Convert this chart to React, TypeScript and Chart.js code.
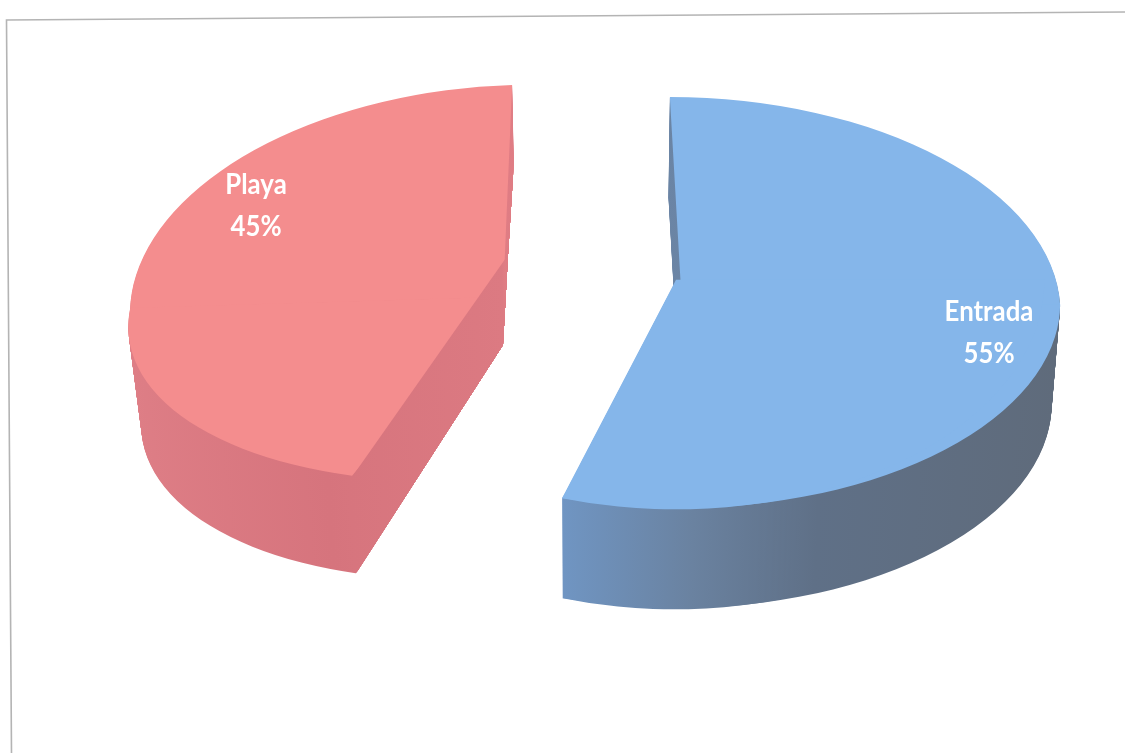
import React, { useEffect, useRef } from "react";
import { Chart, registerables } from "chart.js";

Chart.register(...registerables);

const categories = ["Entrada", "Playa"];
const shares = [55, 45];
const topColors = ["#85b6ea", "#f48d8e"];
const wallStops = [
  [[560, "#7096c4"], [700, "#6a82a0"], [820, "#5f7087"], [1060, "#5f6b7b"]],
  [[130, "#de7e86"], [360, "#d6747d"], [500, "#dc7a82"], [512, "#ea858a"]],
];

const W = 1125;
const H = 753;
const RADIUS = 376;
const EXPLODE = 89.5;
const VANISH_X = 590;

// Foreshortening of each wedge: the far and near halves of the disc tilt by different
// amounts, which stands in for the perspective a flat 2D transform cannot express.
const tilt: any[] = [
  {
    wall: 100,
    shrink: 0.018,
    a: 1.006,
    dx: 2,
    dy: 25,
    shear: 0,
    far: { k: 0.553, t: 0.032 },
    near: { k: 0.54, t: -0.008 },
    core: { dx: -4, dy: 0, a: 0.98, k: 0.61, t: 0 },
  },
  {
    wall: 98,
    shrink: 0.028,
    a: 0.992,
    dx: 0,
    dy: 45,
    shear: -0.03,
    far: { k: 0.564, t: -0.024 },
    near: { k: 0.49, t: -0.1 },
    keep: [[530, 0], [508, 255], [158, 753], [0, 753], [0, 0]],
    wallKeep: [[512, 0], [514, 160], [508, 255], [503, 345], [355, 575], [355, 753], [0, 753], [0, 0]],
  },
];

const labelAnchors = [
  { x: 989, y: 333 },
  { x: 256, y: 206 },
];

function clipTo(ctx: CanvasRenderingContext2D, points: number[][]) {
  ctx.beginPath();
  points.forEach(([x, y], i) => (i ? ctx.lineTo(x, y) : ctx.moveTo(x, y)));
  ctx.closePath();
  ctx.clip();
}

function paintHalf(
  ctx: CanvasRenderingContext2D,
  el: any,
  ox: number,
  oy: number,
  a: number,
  s: number,
  m: { k: number; t: number },
  farSide: boolean,
) {
  ctx.save();
  ctx.translate(ox, oy);
  ctx.transform(a, s, m.t, m.k, 0, 0);
  ctx.translate(-el.x, -el.y);
  ctx.beginPath();
  const top = farSide ? el.y - RADIUS - 4 : el.y - 0.6;
  ctx.rect(el.x - RADIUS - 4, top, 2 * RADIUS + 8, RADIUS + 4.6);
  ctx.clip();
  el.draw(ctx);
  ctx.restore();
}

function paintWedge(ctx: CanvasRenderingContext2D, el: any, index: number, layer: number, fill: any) {
  const mid = (el.startAngle + el.endAngle) / 2;
  const apexX = el.x + Math.cos(mid) * EXPLODE;
  const apexY = el.y + Math.sin(mid) * EXPLODE;
  const view = tilt[index];
  const saved = el.options;
  el.options = { ...saved, backgroundColor: fill };
  ctx.save();
  if (layer > 0) {
    if (view.wallKeep) clipTo(ctx, view.wallKeep);
    ctx.translate(VANISH_X, layer);
    ctx.scale(1 - (view.shrink * layer) / view.wall, 1);
    ctx.translate(-VANISH_X, 0);
  }
  if (view.keep) clipTo(ctx, view.keep);
  const ox = apexX + view.dx;
  const oy = apexY + view.dy;
  paintHalf(ctx, el, ox, oy, view.a, view.shear, view.far, true);
  paintHalf(ctx, el, ox, oy, view.a, view.shear, view.near, false);
  if (view.core) {
    const c = view.core;
    paintHalf(ctx, el, apexX + c.dx, apexY + c.dy, c.a, 0, c, false);
  }
  ctx.restore();
  el.options = saved;
}

const tiltedPie = {
  id: "tiltedPie",
  beforeDraw(chart: any) {
    const { ctx } = chart;
    ctx.save();
    ctx.fillStyle = "#ffffff";
    ctx.fillRect(0, 0, W, H);
    ctx.strokeStyle = "#b4b4b4";
    ctx.lineWidth = 1.6;
    ctx.beginPath();
    ctx.moveTo(W, 12);
    ctx.lineTo(6.5, 20);
    ctx.lineTo(11.5, H);
    ctx.stroke();
    ctx.restore();
  },
  beforeDatasetsDraw(chart: any) {
    const { ctx } = chart;
    const arcs = chart.getDatasetMeta(0).data;
    arcs.forEach((el: any, i: number) => {
      const mid = (el.startAngle + el.endAngle) / 2;
      const shift = Math.cos(mid) * EXPLODE + tilt[i].dx;
      const grad = ctx.createLinearGradient(0, 0, W, 0);
      wallStops[i].forEach(([x, c]: any) => grad.addColorStop(Math.min(1, Math.max(0, (x - shift) / W)), c));
      for (let layer = tilt[i].wall; layer >= 1; layer--) paintWedge(ctx, el, i, layer, grad);
    });
    arcs.forEach((el: any, i: number) => paintWedge(ctx, el, i, 0, topColors[i]));
    return false;
  },
  afterDraw(chart: any) {
    const { ctx } = chart;
    ctx.save();
    ctx.fillStyle = "#ffffff";
    ctx.textAlign = "center";
    ctx.textBaseline = "middle";
    ctx.font = 'bold 29px Lato, "Open Sans", sans-serif';
    categories.forEach((name, i) => {
      const a = labelAnchors[i];
      ctx.save();
      ctx.translate(a.x, a.y);
      ctx.scale(0.89, 1);
      ctx.fillText(name, 0, -21);
      ctx.fillText(`${shares[i]}%`, 0, 21);
      ctx.restore();
    });
    ctx.restore();
  },
};

export default function App() {
  const ref = useRef<HTMLCanvasElement>(null);
  useEffect(() => {
    document.body.style.margin = "0";
    const chart = new Chart(ref.current!, {
      type: "pie",
      data: {
        labels: categories,
        datasets: [
          {
            data: shares,
            backgroundColor: topColors,
            borderWidth: 0,
            radius: RADIUS,
          } as any,
        ],
      },
      options: {
        animation: false,
        responsive: false,
        layout: { padding: { left: 58, bottom: 221 } },
        plugins: { legend: { display: false }, tooltip: { enabled: false } },
      },
      plugins: [tiltedPie],
    });
    return () => chart.destroy();
  }, []);
  return <canvas ref={ref} width={W} height={H} style={{ display: "block" }} />;
}
